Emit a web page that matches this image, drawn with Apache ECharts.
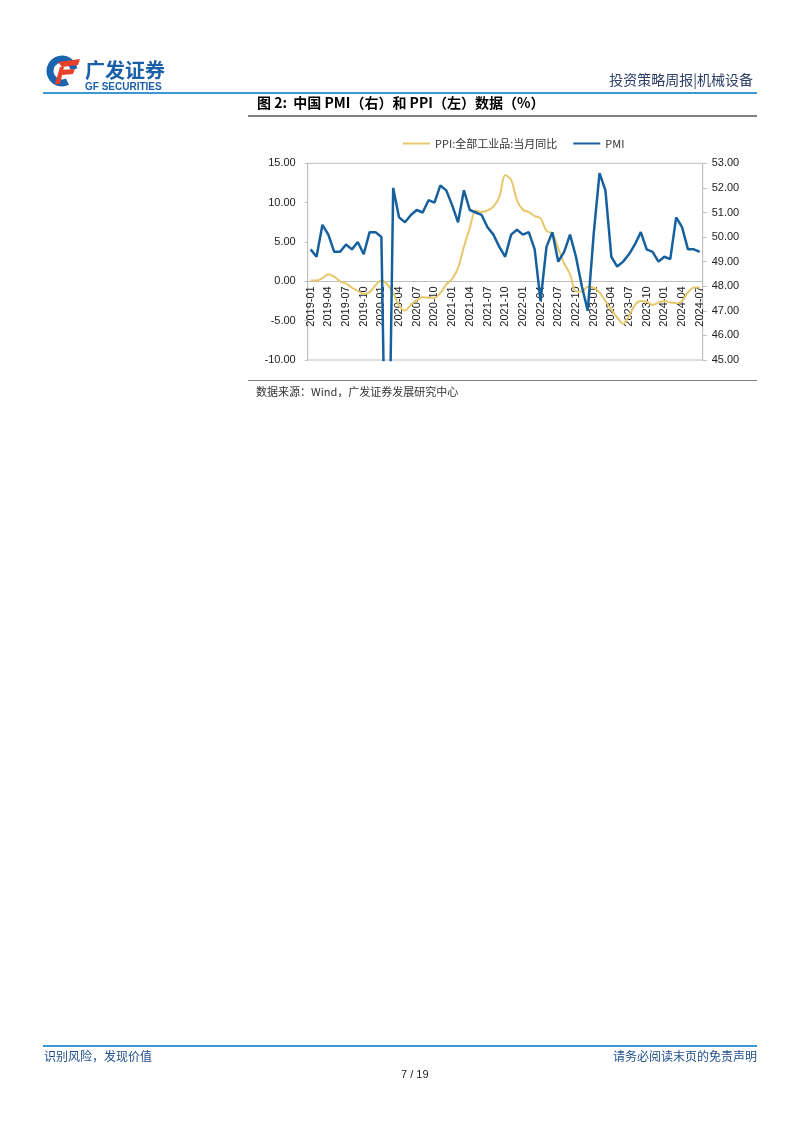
<!DOCTYPE html>
<html><head><meta charset="utf-8">
<script src="https://cdn.jsdelivr.net/npm/echarts@6/dist/echarts.min.js"></script>
<style>html,body{margin:0;padding:0;background:#fff}#c{width:802px;height:1133px}</style>
</head><body><div id="c"></div>
<script>
const categories = [
'2019-01','2019-02','2019-03','2019-04','2019-05','2019-06','2019-07','2019-08','2019-09','2019-10','2019-11','2019-12',
'2020-01','2020-02','2020-03','2020-04','2020-05','2020-06','2020-07','2020-08','2020-09','2020-10','2020-11','2020-12',
'2021-01','2021-02','2021-03','2021-04','2021-05','2021-06','2021-07','2021-08','2021-09','2021-10','2021-11','2021-12',
'2022-01','2022-02','2022-03','2022-04','2022-05','2022-06','2022-07','2022-08','2022-09','2022-10','2022-11','2022-12',
'2023-01','2023-02','2023-03','2023-04','2023-05','2023-06','2023-07','2023-08','2023-09','2023-10','2023-11','2023-12',
'2024-01','2024-02','2024-03','2024-04','2024-05','2024-06','2024-07'];
const ppi = [
0.1,0.1,0.4,0.9,0.6,0.0,-0.3,-0.8,-1.2,-1.6,-1.4,-0.5,
0.1,-0.4,-1.5,-3.1,-3.7,-3.0,-2.4,-2.0,-2.1,-2.1,-1.5,-0.4,
0.3,1.7,4.4,6.8,9.0,8.8,9.0,9.5,10.7,13.5,12.9,10.3,
9.1,8.8,8.3,8.0,6.4,6.1,4.2,2.3,0.9,-1.3,-1.3,-0.7,
-0.8,-1.4,-2.5,-3.6,-4.6,-5.4,-4.4,-3.0,-2.5,-2.6,-3.0,-2.7,
-2.5,-2.7,-2.8,-2.5,-1.4,-0.8,-0.8];
const pmi = [
49.5,49.2,50.5,50.1,49.4,49.4,49.7,49.5,49.8,49.3,50.2,50.2,
50.0,35.7,52.0,50.8,50.6,50.9,51.1,51.0,51.5,51.4,52.1,51.9,
51.3,50.6,51.9,51.1,51.0,50.9,50.4,50.1,49.6,49.2,50.1,50.3,
50.1,50.2,49.5,47.4,49.6,50.2,49.0,49.4,50.1,49.2,48.0,47.0,
50.1,52.6,51.9,49.2,48.8,49.0,49.3,49.7,50.2,49.5,49.4,49.0,
49.2,49.1,50.8,50.4,49.5,49.5,49.4];
const seriesNames = ['PPI:全部工业品:当月同比','PMI'];
const leftTicks = {min:-10, max:15, interval:5};
const rightTicks = {min:45, max:53, interval:1};

const NUM = '"Liberation Sans", Arial, sans-serif';
const CJK = '"Noto Sans CJK SC", sans-serif';
const gridTop = 163.3, gridBottomPx = 360;
const gridH = gridBottomPx - gridTop;
const zeroOffset = -gridH * (0 - leftTicks.min) / (leftTicks.max - leftTicks.min);

const chart = echarts.init(document.getElementById('c'), null, {renderer:'canvas'});
chart.setOption({
  animation:false,
  backgroundColor:'#fff',
  graphic:[
    {type:'arc', shape:{cx:62, cy:71, r:12, startAngle:Math.PI*0.35, endAngle:Math.PI*1.95}, style:{stroke:'#1a63b0', lineWidth:7, fill:null}},
    {type:'polygon', shape:{points:[[58,62],[80,59],[78,65],[62,67]]}, style:{fill:'#e8402a'}},
    {type:'polygon', shape:{points:[[60,70],[75,69],[73,74],[62,75]]}, style:{fill:'#e8402a'}},
    {type:'polygon', shape:{points:[[60,67],[64,67],[60,84],[55,84]]}, style:{fill:'#e8402a'}},
    {type:'text', left:85, top:60, style:{text:'广发证券', font:'bold 20px '+CJK, fill:'#1a5fa8'}},
    {type:'text', left:85, top:82, style:{text:'GF SECURITIES', font:'bold 10px '+NUM, fill:'#1a5fa8'}},
    {type:'text', right:49, top:73, style:{text:'投资策略周报|机械设备', font:'14px '+CJK, fill:'#2c3e66'}},
    {type:'line', shape:{x1:43, y1:93, x2:757, y2:93}, style:{stroke:'#3b9ad6', lineWidth:2}},
    {type:'text', left:257, top:96, style:{text:'图 2:  中国 PMI（右）和 PPI（左）数据（%）', font:'bold 14px '+CJK, fill:'#000'}},
    {type:'line', shape:{x1:248, y1:116, x2:757, y2:116}, style:{stroke:'#000', lineWidth:1}},
    {type:'line', shape:{x1:248, y1:380.5, x2:757, y2:380.5}, style:{stroke:'#808080', lineWidth:1}},
    {type:'text', left:256, top:386, style:{text:'数据来源：Wind，广发证券发展研究中心', font:'11px '+CJK, fill:'#333'}},
    {type:'line', shape:{x1:43, y1:1046, x2:757, y2:1046}, style:{stroke:'#3b9ad6', lineWidth:2}},
    {type:'text', left:44, top:1050, style:{text:'识别风险，发现价值', font:'12px '+CJK, fill:'#1f4e8c'}},
    {type:'text', right:45, top:1050, style:{text:'请务必阅读末页的免责声明', font:'12px '+CJK, fill:'#1f4e8c'}},
    {type:'text', left:401, top:1069, style:{text:'7 / 19', font:'11px '+NUM, fill:'#222', align:'center'}}
  ],
  legend:{
    data:seriesNames, left:398, top:133, icon:'rect', itemWidth:27, itemHeight:2, itemGap:16,
    textStyle:{fontSize:11, fontFamily:'Noto Sans CJK SC', color:'#333'}
  },
  grid:{left:307.7, right:99.3, top:gridTop, bottom:1133-gridBottomPx, show:true, borderColor:'#c0c0c0', borderWidth:1, containLabel:false},
  xAxis:{
    type:'category', data:categories, boundaryGap:true, offset:zeroOffset,
    axisLine:{onZero:false, lineStyle:{color:'#bfbfbf', width:1}},
    axisTick:{show:false},
    axisLabel:{interval:2, rotate:90, fontSize:11, fontFamily:'Liberation Sans', color:'#222', margin:5}
  },
  yAxis:[
    {type:'value', min:leftTicks.min, max:leftTicks.max, interval:leftTicks.interval, position:'left',
     axisLine:{show:true, lineStyle:{color:'#bfbfbf'}}, axisTick:{show:true, length:3, lineStyle:{color:'#bfbfbf'}},
     splitLine:{show:false},
     axisLabel:{formatter:v=>v.toFixed(2), fontSize:11, fontFamily:'Liberation Sans', color:'#222', margin:12}},
    {type:'value', min:rightTicks.min, max:rightTicks.max, interval:rightTicks.interval, position:'right',
     axisLine:{show:true, lineStyle:{color:'#bfbfbf'}}, axisTick:{show:true, length:4, lineStyle:{color:'#bfbfbf'}},
     splitLine:{show:false},
     axisLabel:{formatter:v=>v.toFixed(2), fontSize:11, fontFamily:'Liberation Sans', color:'#222', margin:9}}
  ],
  series:[
    {name:seriesNames[0], type:'line', yAxisIndex:0, data:ppi, symbol:'none', smooth:0.3,
     lineStyle:{color:'#e6c86a', width:2}, itemStyle:{color:'#e6c86a'}, clip:true},
    {name:seriesNames[1], type:'line', yAxisIndex:1, data:pmi, symbol:'none',
     lineStyle:{color:'#17609e', width:2.5}, itemStyle:{color:'#17609e'}, clip:true}
  ]
});
</script></body></html>
